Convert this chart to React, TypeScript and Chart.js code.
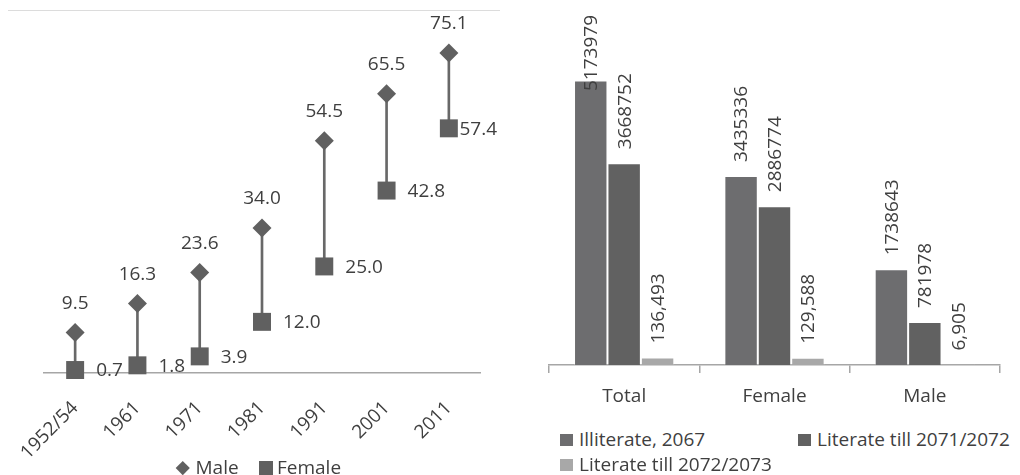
import React, { useEffect, useRef } from "react";
import { Chart, registerables } from "chart.js";

Chart.register(...registerables);

// Literacy rate by census year (%)
const censusYears = ["1952/54", "1961", "1971", "1981", "1991", "2001", "2011"];
const maleRates = [9.5, 16.3, 23.6, 34.0, 54.5, 65.5, 75.1];
const femaleRates = [0.7, 1.8, 3.9, 12.0, 25.0, 42.8, 57.4];
const rateSeriesNames = ["Male", "Female"];

// Literacy campaign counts
const groups = ["Total", "Female", "Male"];
const illiterate2067 = [5173979, 3435336, 1738643];
const literate2072 = [3668752, 2886774, 781978];
const literate2073 = [136493, 129588, 6905];
const countSeriesNames = ["Illiterate, 2067", "Literate till 2071/2072", "Literate till 2072/2073"];
const countUsesSeparators = [false, false, true];

const FONT_FAMILY = "'Open Sans', sans-serif";
const FONT_SIZE = 19;
const TEXT = "#3f3f3f";
const MARK = "#606060";
const AXIS = "#a6a6a6";
const BAR_COLORS = ["#6d6d6f", "#616161", "#a8a8a8"];

const RATE_CANVAS_H = 475;
const RATE_AXIS_Y = 373;
const COUNT_CANVAS_H = 420;
const COUNT_AXIS_Y = 365;

// Value labels for the dumbbell chart: male above the diamond, female right of the square
const rateLabelPlugin = {
  id: "rateLabels",
  afterDatasetsDraw(chart: any) {
    const ctx = chart.ctx;
    ctx.save();
    ctx.font = `${FONT_SIZE}px ${FONT_FAMILY}`;
    ctx.fillStyle = TEXT;
    ctx.textBaseline = "middle";
    chart.data.datasets.forEach((ds: any, di: number) => {
      if (!ds.valueLabel) return;
      const meta = chart.getDatasetMeta(di);
      meta.data.forEach((el: any, i: number) => {
        const text = Number(ds.data[i]).toFixed(1);
        if (ds.valueLabel === "above") {
          ctx.textAlign = "center";
          ctx.fillText(text, el.x, el.y - 29);
        } else {
          const w = ctx.measureText(text).width;
          let x = el.x + 21;
          if (x + w > chart.width - 3) x = chart.width - 3 - w;
          ctx.textAlign = "left";
          ctx.fillText(text, x, el.y + 1);
        }
      });
    });
    ctx.restore();
  },
};

// Vertical value labels above each bar, kept inside the canvas
const barLabelPlugin = {
  id: "barLabels",
  afterDatasetsDraw(chart: any) {
    const ctx = chart.ctx;
    ctx.save();
    ctx.font = `${FONT_SIZE}px ${FONT_FAMILY}`;
    ctx.fillStyle = TEXT;
    ctx.textBaseline = "middle";
    ctx.textAlign = "left";
    chart.data.datasets.forEach((ds: any, di: number) => {
      const meta = chart.getDatasetMeta(di);
      meta.data.forEach((el: any, i: number) => {
        const v = ds.data[i] as number;
        const text = countUsesSeparators[di] ? v.toLocaleString("en-US") : String(v);
        const w = ctx.measureText(text).width;
        let start = el.y - 14;
        if (start - w < 15) start = 15 + w;
        ctx.save();
        ctx.translate(el.x + 1, start);
        ctx.rotate(-Math.PI / 2);
        ctx.fillText(text, 0, 0);
        ctx.restore();
      });
    });
    ctx.restore();
  },
};

function RateChart() {
  const ref = useRef<HTMLCanvasElement>(null);
  useEffect(() => {
    const chart = new Chart(ref.current!, {
      type: "bar",
      data: {
        labels: censusYears,
        datasets: [
          {
            type: "bar",
            label: "gap",
            data: censusYears.map((_, i) => [femaleRates[i], maleRates[i]]) as any,
            backgroundColor: "#686868",
            barThickness: 2,
            order: 3,
          },
          {
            type: "line",
            label: rateSeriesNames[0],
            data: maleRates,
            showLine: false,
            pointStyle: "rectRot",
            pointRadius: 9.5,
            pointBackgroundColor: MARK,
            pointBorderWidth: 0,
            clip: false,
            order: 1,
            valueLabel: "above",
          } as any,
          {
            type: "line",
            label: rateSeriesNames[1],
            data: femaleRates,
            showLine: false,
            pointStyle: "rect",
            pointRadius: 12.7,
            pointBackgroundColor: MARK,
            pointBorderWidth: 0,
            clip: false,
            order: 2,
            valueLabel: "right",
          } as any,
        ],
      },
      options: {
        animation: false,
        responsive: false,
        events: [],
        layout: { padding: { left: 44, right: 20, top: 32, bottom: 0 } },
        scales: {
          x: {
            offset: true,
            grid: { display: false },
            border: { display: true, color: AXIS, width: 1.5 },
            ticks: {
              minRotation: 45,
              maxRotation: 45,
              color: TEXT,
              padding: 16,
              font: { family: FONT_FAMILY, size: FONT_SIZE },
            },
            afterFit: (s: any) => {
              s.height = RATE_CANVAS_H - RATE_AXIS_Y;
            },
          },
          y: { display: false, min: 0, max: 80 },
        },
        plugins: {
          tooltip: { enabled: false },
          legend: { display: false },
        },
      },
      plugins: [rateLabelPlugin],
    });
    return () => chart.destroy();
  }, []);
  return (
    <canvas
      ref={ref}
      width={500}
      height={RATE_CANVAS_H}
      style={{ position: "absolute", left: 0, top: 0, width: 500, height: RATE_CANVAS_H }}
    />
  );
}

function CountChart() {
  const ref = useRef<HTMLCanvasElement>(null);
  useEffect(() => {
    const series = [illiterate2067, literate2072, literate2073];
    const chart = new Chart(ref.current!, {
      type: "bar",
      data: {
        labels: groups,
        datasets: series.map((d, i) => ({
          label: countSeriesNames[i],
          data: d,
          backgroundColor: BAR_COLORS[i],
          borderColor: "rgba(255,255,255,0.25)",
          borderWidth: 1,
          barPercentage: 1,
          categoryPercentage: 0.667,
        })),
      },
      options: {
        animation: false,
        responsive: false,
        events: [],
        layout: { padding: { left: 39, right: 20, top: 35, bottom: 0 } },
        scales: {
          x: {
            grid: {
              display: true,
              drawOnChartArea: false,
              drawTicks: true,
              tickLength: 8,
              color: AXIS,
              lineWidth: 1.5,
            },
            border: { display: true, color: AXIS, width: 1.5 },
            ticks: {
              color: TEXT,
              padding: 12,
              font: { family: FONT_FAMILY, size: FONT_SIZE },
            },
            afterFit: (s: any) => {
              s.height = COUNT_CANVAS_H - COUNT_AXIS_Y;
            },
          },
          y: { display: false, min: 0, max: 6000000 },
        },
        plugins: {
          tooltip: { enabled: false },
          legend: { display: false },
        },
      },
      plugins: [barLabelPlugin],
    });
    return () => chart.destroy();
  }, []);
  return (
    <canvas
      ref={ref}
      width={510}
      height={COUNT_CANVAS_H}
      style={{ position: "absolute", left: 510, top: 0, width: 510, height: COUNT_CANVAS_H }}
    />
  );
}

const legendText: React.CSSProperties = {
  position: "absolute",
  height: 25,
  lineHeight: "25px",
  display: "flex",
  alignItems: "center",
  whiteSpace: "nowrap",
  fontFamily: FONT_FAMILY,
  fontSize: FONT_SIZE,
  color: TEXT,
};

function RateLegend() {
  return (
    <>
      <div style={{ ...legendText, left: 176, top: 455 }}>
        <span
          style={{
            display: "inline-block",
            width: 9.5,
            height: 9.5,
            background: MARK,
            transform: "rotate(45deg)",
            margin: "0 8px 0 2px",
          }}
        />
        {rateSeriesNames[0]}
      </div>
      <div style={{ ...legendText, left: 259, top: 455 }}>
        <span style={{ display: "inline-block", width: 14, height: 14, background: MARK, marginRight: 4 }} />
        {rateSeriesNames[1]}
      </div>
    </>
  );
}

function CountLegend() {
  const item = (i: number, left: number, top: number) => (
    <div key={i} style={{ ...legendText, left, top }}>
      <span style={{ display: "inline-block", width: 13, height: 12, background: BAR_COLORS[i], marginRight: 6 }} />
      {countSeriesNames[i]}
    </div>
  );
  return (
    <>
      {item(0, 560, 427)}
      {item(1, 798, 427)}
      {item(2, 560, 452)}
    </>
  );
}

export default function App() {
  return (
    <div
      style={{
        position: "fixed",
        left: 0,
        top: 0,
        width: 1020,
        height: 475,
        overflow: "hidden",
        background: "#ffffff",
      }}
    >
      <div style={{ position: "absolute", left: 8, top: 10, width: 492, height: 1, background: "#dcdcdc" }} />
      <RateChart />
      <CountChart />
      <RateLegend />
      <CountLegend />
    </div>
  );
}
